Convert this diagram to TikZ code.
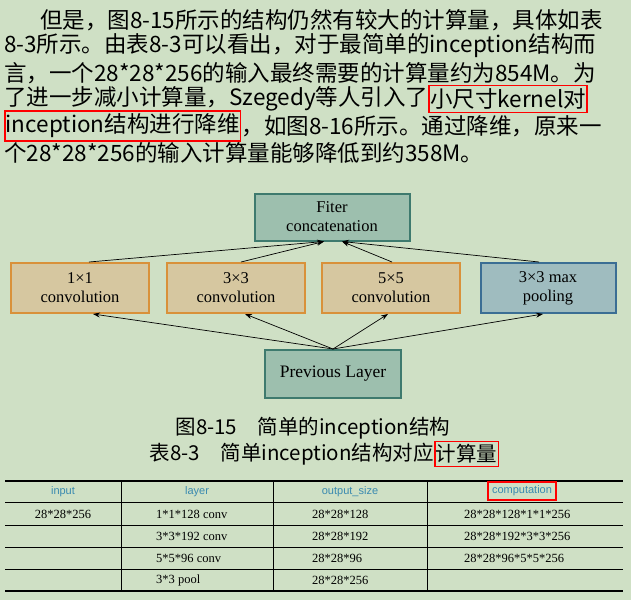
\documentclass[tikz,border=0pt]{standalone}
\usepackage{fontspec}
\setmainfont{Liberation Serif}
\newfontfamily\cjk{Noto Sans CJK SC}
\newfontfamily\hsans{Liberation Sans}
\usetikzlibrary{arrows.meta}
\definecolor{bg}{HTML}{CFE0C5}
\definecolor{tealf}{HTML}{9DBFAE}\definecolor{teald}{HTML}{3E7A6E}
\definecolor{orf}{HTML}{D6C7A0}\definecolor{ord}{HTML}{D9913A}
\definecolor{blf}{HTML}{9FBCBF}\definecolor{bld}{HTML}{3B6E94}
\definecolor{hdr}{HTML}{3A8AB0}
\begin{document}
\begin{tikzpicture}[x=1pt,y=-1pt,
  txt/.style={anchor=west,inner sep=0pt,font=\cjk\fontsize{22.5}{23}\selectfont},
  boxed/.style={txt,draw=red,line width=1.6pt,inner xsep=1pt,inner ysep=3pt},
  box/.style={draw,line width=2pt,align=center,inner sep=0pt,font=\fontsize{16.5}{19}\selectfont},
  conv/.style={box,draw=ord,fill=orf,minimum width=138pt,minimum height=50pt},
  red/.style={draw=red,line width=1.6pt},
  arr/.style={-{Stealth[length=7pt,width=5pt]},line width=0.7pt},
  cell/.style={inner sep=0pt,font=\fontsize{12.5}{13}\selectfont},
  hcell/.style={inner sep=0pt,font=\hsans\fontsize{11}{12}\selectfont,text=hdr}]
\fill[bg] (0,0) rectangle (631,600);
\useasboundingbox (0,0) rectangle (631,600);
\node[txt] (l1) at (40,20) {但是，图8-15所示的结构仍然有较大的计算量，具体如表};
\node[txt] (l2) at (4,46) {8-3所示。由表8-3可以看出，对于最简单的inception结构而};
\node[txt] (l3) at (4,73) {言，一个28*28*256的输入最终需要的计算量约为854M。为};
\node[txt] (l4) at (4,99) {了进一步减小计算量，Szegedy等人引入了};
\node[boxed] (l4b) at (l4.east) {小尺寸kernel对};
\node[boxed] (l5) at (4,126) {inception结构进行降维};
\node[txt] (l5b) at (l5.east) {，如图8-16所示。通过降维，原来一};
\node[txt] (l6) at (4,153) {个28*28*256的输入计算量能够降低到约358M。};
% diagram
\node[box,draw=teald,fill=tealf,minimum width=155pt,minimum height=47pt] (fc) at (332,217) {Fiter\\concatenation};
\node[conv] (c1) at (80,288) {1×1\\convolution};
\node[conv] (c3) at (236,288) {3×3\\convolution};
\node[conv] (c5) at (391,288) {5×5\\convolution};
\node[box,draw=bld,fill=blf,minimum width=135pt,minimum height=50pt] (mp) at (548,288) {3×3 max\\pooling};
\node[box,draw=teald,fill=tealf,minimum width=136pt,minimum height=48pt,font=\fontsize{17.5}{19}\selectfont] (pl) at (333,374) {Previous Layer};
\draw[arr] ([xshift=9pt]c1.north) -- ([xshift=-8pt]fc.south);
\draw[arr] ([xshift=5pt]c3.north) -- ([xshift=-8pt]fc.south);
\draw[arr] ([xshift=1pt]c5.north) -- ([xshift=10pt]fc.south);
\draw[arr] ([xshift=-9pt]mp.north) -- ([xshift=10pt]fc.south);
\draw[arr] (pl.north) -- ([xshift=13pt]c1.south);
\draw[arr] (pl.north) -- ([xshift=9pt]c3.south);
\draw[arr] (pl.north) -- ([xshift=-3pt]c5.south);
\draw[arr] (pl.north) -- ([xshift=-5pt]mp.south);
% captions
\node[inner sep=0pt,font=\cjk\fontsize{20.5}{21}\selectfont] (cap1) at (313,428) {图8-15\quad 简单的inception结构};
\node[inner sep=0pt,anchor=east,font=\cjk\fontsize{20.5}{21}\selectfont] (cap2) at (434,454) {表8-3\quad 简单inception结构对应};
\node[inner xsep=1pt,inner ysep=3pt,anchor=west,draw=red,line width=1.6pt,font=\cjk\fontsize{20.5}{21}\selectfont] (cap2b) at (cap2.east) {计算量};
% table
\draw[line width=1.8pt] (5,481) -- (623,481);
\draw[line width=0.7pt] (5,502) -- (623,502) (5,525) -- (623,525) (5,547) -- (623,547) (5,569) -- (623,569);
\draw[line width=1.8pt] (5,591) -- (623,591);
\draw[line width=0.7pt] (121,481) -- (121,591) (273,481) -- (273,591) (427,481) -- (427,591);
\node[hcell] (h1) at (63,492) {input};
\node[hcell] (h2) at (197,492) {layer};
\node[hcell] (h3) at (350,492) {output\_size};
\node[hcell,draw=red,line width=1.3pt,inner xsep=4pt,inner ysep=4pt] (h4) at (522,491) {computation};
\node[cell] (a1) at (63,514) {28*28*256};
\node[cell,anchor=west] (b1) at (156,514) {1*1*128 conv};
\node[cell,anchor=west] (b2) at (156,536) {3*3*192 conv};
\node[cell,anchor=west] (b3) at (156,558) {5*5*96 conv};
\node[cell,anchor=west] (b4) at (156,580) {3*3 pool};
\node[cell,anchor=west] (o1) at (312,514) {28*28*128};
\node[cell,anchor=west] (o2) at (312,536) {28*28*192};
\node[cell,anchor=west] (o3) at (312,558) {28*28*96};
\node[cell,anchor=west] (o4) at (312,580) {28*28*256};
\node[cell,anchor=west] (d1) at (464,514) {28*28*128*1*1*256};
\node[cell,anchor=west] (d2) at (464,536) {28*28*192*3*3*256};
\node[cell,anchor=west] (d3) at (464,558) {28*28*96*5*5*256};
\end{tikzpicture}
\end{document}
